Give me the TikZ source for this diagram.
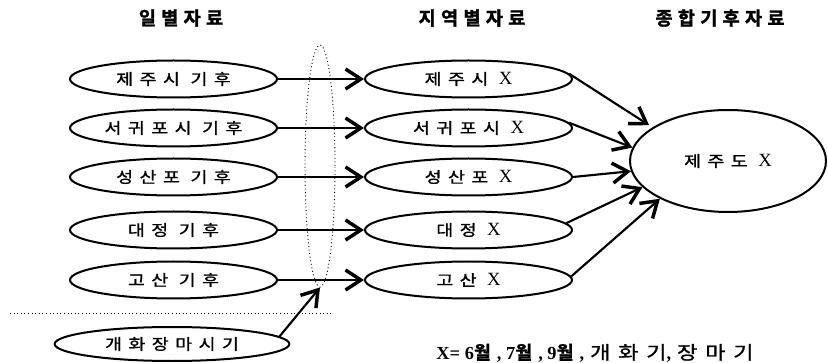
\documentclass[tikz,border=0pt]{standalone}
\usepackage{fontspec}
\usetikzlibrary{shapes.geometric,arrows.meta}
\newfontfamily\kr[FakeStretch=1.2,FakeBold=1.2,LetterSpace=42]{Noto Sans CJK KR}
\newfontfamily\krb[FakeBold=1.5,LetterSpace=28]{Noto Sans CJK KR Bold}
\newfontfamily\tm{Liberation Serif}
\newcommand{\xx}{{\fontsize{14}{15}\selectfont\tm X}}
\begin{document}
\begin{tikzpicture}[x=0.75pt,y=-0.75pt,
  lab/.style={font=\fontsize{11.5}{13}\selectfont\kr},
  head/.style={font=\fontsize{14}{16}\selectfont\krb},
  oval/.style={ellipse,draw,line width=1.5pt,inner sep=0pt,lab},
  lov/.style={oval,minimum width=155.25pt,minimum height=27.75pt},
  arr/.style={line width=1.6pt,-{Straight Barb[length=11.5pt,width=15pt,line width=2.6pt]}},
  grp/.style={ellipse,draw,dotted,line width=0.7pt,inner sep=0pt,minimum width=22.5pt,minimum height=181.5pt}]
\path[use as bounding box] (0,0) rectangle (828,363);
% headers
\node[head] (h1) at (181,18) {일별자료};
\node[head] (h2) at (472,18) {지역별자료};
\node[head] (h3) at (720,18) {종합기후자료};
% left ellipses
\node[lov] (L1) at (173.5,79) {제주시 기후};
\node[lov] (L2) at (173.5,128) {서귀포시 기후};
\node[lov] (L3) at (173.5,177) {성산포 기후};
\node[lov] (L4) at (173.5,230) {대정 기후};
\node[lov] (L5) at (173.5,280) {고산 기후};
% middle ellipses
\node[lov] (M1) at (468.5,79) {제주시 \xx};
\node[lov] (M2) at (468.5,128) {서귀포시 \xx};
\node[lov] (M3) at (468.5,177) {성산포 \xx};
\node[lov] (M4) at (468.5,230) {대정 \xx};
\node[lov] (M5) at (468.5,280) {고산 \xx};
% big ellipse
\node[oval,minimum width=147pt,minimum height=76.5pt] (J) at (728,161) {제주도 \xx};
% dotted group
\node[grp] (G) at (320,166) {};
% bottom ellipse
\node[oval,minimum width=176pt,minimum height=25.5pt] (K) at (172,344) {개화장마시기};
% dotted separator
\coordinate (s1) at (10,313);
\coordinate (s2) at (333,313);
\draw[dotted,line width=0.7pt] (s1) -- (s2);
% arrows
\foreach \i in {1,...,5} \draw[arr] (L\i.east) -- (M\i.west);
\draw[arr,shorten >=3pt] (M1.3) -- (J.156);
\draw[arr] (M2.3) -- (J.172);
\draw[arr] (M3.0) -- (J.186);
\draw[arr] (M4.4) -- (J.197);
\draw[arr] (M5.2) -- (J.209);
\draw[arr] (K.4) -- (G.south);
% legend
\node[font=\fontsize{13.8}{15}\selectfont] (X) at (595,353) {{\tm\bfseries X= 6}{\krb 월} {\tm\bfseries , 7}{\krb 월} {\tm\bfseries , 9}{\krb 월} {\tm\bfseries ,} {\kr 개화기}{\tm\bfseries ,} {\kr 장마기}};
\end{tikzpicture}
\end{document}
